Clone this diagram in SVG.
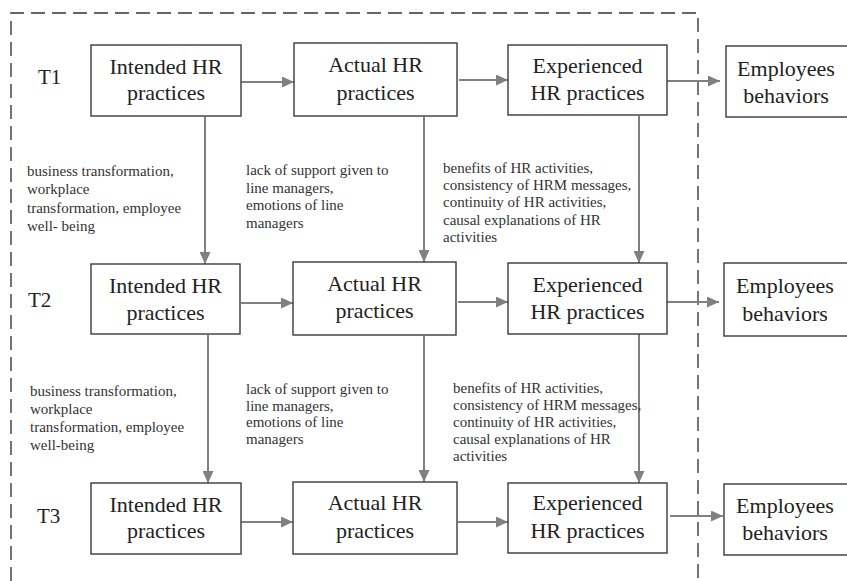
<svg xmlns="http://www.w3.org/2000/svg" width="847" height="581" viewBox="0 0 847 581" font-family="'Liberation Serif', 'DejaVu Serif', serif">
<style>
.box{fill:#fff;stroke:#3a3a3a;stroke-width:1.4}
.bt{font-family:'Liberation Serif', serif;font-size:22px;fill:#222;text-anchor:middle}
.tl{font-family:'Liberation Serif', serif;font-size:21px;fill:#222}
.lb{font-family:'Liberation Serif', serif;font-size:15px;fill:#333}
.ar{stroke:#808080;stroke-width:2;fill:none;marker-end:url(#ah)}
.frame{fill:none;stroke:#666;stroke-width:1.8;stroke-dasharray:14 7}
</style>
<defs>
<marker id="ah" markerUnits="userSpaceOnUse" markerWidth="12" markerHeight="11" refX="12" refY="5.5" orient="auto">
<path d="M0,0 L12,5.5 L0,11 z" fill="#808080"/>
</marker>
</defs>
<rect width="847" height="581" fill="#fff"/>
<path class="frame" d="M11,581 V13 H698 V581"/>

<g id="time-labels">
<text class="tl" x="38" y="84">T1</text>
<text class="tl" x="28" y="307">T2</text>
<text class="tl" x="37" y="523">T3</text>
</g>

<g id="connectors">
<line class="ar" x1="241" y1="82" x2="294" y2="82"/>
<line class="ar" x1="459" y1="80" x2="508" y2="80"/>
<line class="ar" x1="667" y1="81" x2="720" y2="81"/>
<line class="ar" x1="241" y1="303" x2="293" y2="303"/>
<line class="ar" x1="458" y1="302" x2="508" y2="302"/>
<line class="ar" x1="667" y1="302" x2="719" y2="302"/>
<line class="ar" x1="241" y1="522" x2="293" y2="522"/>
<line class="ar" x1="458" y1="522" x2="508" y2="522"/>
<line class="ar" x1="670" y1="516" x2="723" y2="516"/>
<line class="ar" x1="205" y1="117" x2="205" y2="264"/>
<line class="ar" x1="424" y1="117" x2="424" y2="262"/>
<line class="ar" x1="639" y1="116" x2="639" y2="263"/>
<line class="ar" x1="208" y1="335" x2="208" y2="483"/>
<line class="ar" x1="424" y1="336" x2="424" y2="482"/>
<line class="ar" x1="639" y1="334" x2="639" y2="483"/>
</g>

<g id="intended-t1"><rect class="box" x="91" y="45" width="150" height="71"/><text class="bt" x="166" y="74">Intended HR</text><text class="bt" x="166" y="100">practices</text></g>
<g id="actual-t1"><rect class="box" x="294" y="43" width="163" height="73"/><text class="bt" x="375.5" y="72">Actual HR</text><text class="bt" x="375.5" y="100">practices</text></g>
<g id="experienced-t1"><rect class="box" x="508" y="45" width="159" height="70"/><text class="bt" x="587.5" y="73">Experienced</text><text class="bt" x="587.5" y="100">HR practices</text></g>
<g id="employees-t1"><rect class="box" x="726" y="46" width="130" height="71"/><text class="bt" x="786" y="76">Employees</text><text class="bt" x="786" y="103">behaviors</text></g>

<g id="intended-t2"><rect class="box" x="91" y="264" width="149" height="70"/><text class="bt" x="165.5" y="293">Intended HR</text><text class="bt" x="165.5" y="320">practices</text></g>
<g id="actual-t2"><rect class="box" x="293" y="262" width="163" height="73"/><text class="bt" x="374.5" y="291">Actual HR</text><text class="bt" x="374.5" y="318">practices</text></g>
<g id="experienced-t2"><rect class="box" x="508" y="263" width="159" height="71"/><text class="bt" x="587.5" y="292">Experienced</text><text class="bt" x="587.5" y="319">HR practices</text></g>
<g id="employees-t2"><rect class="box" x="724" y="263" width="132" height="73"/><text class="bt" x="785" y="293">Employees</text><text class="bt" x="785" y="321">behaviors</text></g>

<g id="intended-t3"><rect class="box" x="91" y="483" width="150" height="71"/><text class="bt" x="166" y="512">Intended HR</text><text class="bt" x="166" y="538">practices</text></g>
<g id="actual-t3"><rect class="box" x="293" y="482" width="164" height="72"/><text class="bt" x="375" y="510">Actual HR</text><text class="bt" x="375" y="538">practices</text></g>
<g id="experienced-t3"><rect class="box" x="508" y="483" width="159" height="70"/><text class="bt" x="587.5" y="510">Experienced</text><text class="bt" x="587.5" y="538">HR practices</text></g>
<g id="employees-t3"><rect class="box" x="724" y="484" width="132" height="71"/><text class="bt" x="785" y="513">Employees</text><text class="bt" x="785" y="540">behaviors</text></g>

<g id="labels-t1">
<text class="lb" x="27" y="176"><tspan x="27">business transformation,</tspan><tspan x="27" dy="18.3">workplace</tspan><tspan x="27" dy="18.3">transformation, employee</tspan><tspan x="27" dy="18.3">well- being</tspan></text>
<text class="lb" x="246" y="175"><tspan x="246">lack of support given to</tspan><tspan x="246" dy="17.5">line managers,</tspan><tspan x="246" dy="17.5">emotions of line</tspan><tspan x="246" dy="17.5">managers</tspan></text>
<text class="lb" x="443" y="173"><tspan x="443">benefits of HR activities,</tspan><tspan x="443" dy="17.2">consistency of HRM messages,</tspan><tspan x="443" dy="17.2">continuity of HR activities,</tspan><tspan x="443" dy="17.2">causal explanations of HR</tspan><tspan x="443" dy="17.2">activities</tspan></text>
</g>
<g id="labels-t2">
<text class="lb" x="30" y="395.5"><tspan x="30">business transformation,</tspan><tspan x="30" dy="18.2">workplace</tspan><tspan x="30" dy="18.2">transformation, employee</tspan><tspan x="30" dy="18.2">well-being</tspan></text>
<text class="lb" x="246" y="394"><tspan x="246">lack of support given to</tspan><tspan x="246" dy="16.7">line managers,</tspan><tspan x="246" dy="16.7">emotions of line</tspan><tspan x="246" dy="16.7">managers</tspan></text>
<text class="lb" x="453" y="392.5"><tspan x="453">benefits of HR activities,</tspan><tspan x="453" dy="17">consistency of HRM messages,</tspan><tspan x="453" dy="17">continuity of HR activities,</tspan><tspan x="453" dy="17">causal explanations of HR</tspan><tspan x="453" dy="17">activities</tspan></text>
</g>
</svg>
